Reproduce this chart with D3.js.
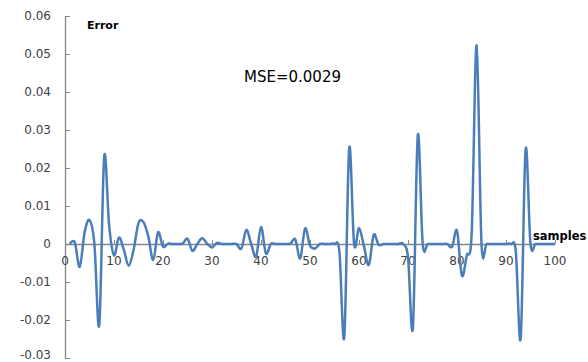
<!DOCTYPE html>
<html>
<head>
<meta charset="utf-8">
<title>Error</title>
<style>
  html, body {margin: 0; padding: 0; background: #fff;}
  svg {display: block;}
  .tick-label {font-family: "DejaVu Sans", sans-serif; font-size: 12px; fill: #404040;}
</style>
<script src="https://cdn.jsdelivr.net/npm/d3@7"></script>
</head>
<body>
<div id="chart"></div>
<script>
// error per sample, samples 1..100
var samples = d3.range(1, 101);
var errorValues = [
  0, 0.0004, -0.006, 0.003, 0.0063, 0, -0.0213, 0.023, 0.005, -0.003,
  0.0017, -0.0015, -0.0057, -0.0015, 0.0055, 0.0058, 0.002, -0.0042, 0.0031, -0.0007,
  0.0001, 0, 0, 0.0001, 0.0014, -0.0018, 0, 0.0015, 0.0001, -0.0009,
  0.0003, 0, 0, 0, 0, -0.0012, 0.0037, 0, -0.0033, 0.0045,
  -0.0025, 0, 0, 0, 0, 0.0001, 0.0012, -0.0038, 0.0041, -0.0004,
  -0.0012, 0, 0, 0, 0, -0.002, -0.0245, 0.0252, 0, 0.0042,
  -0.0005, -0.0055, 0.0024, -0.0002, 0, 0, 0, 0, 0, -0.0035,
  -0.022, 0.0286, 0, 0, 0, 0, 0, 0, -0.0007, 0.0035,
  -0.0083, -0.003, 0.003, 0.0523, 0, 0, 0, 0, 0, 0,
  0, -0.002, -0.0248, 0.0249, 0, 0, 0, 0, 0, 0
];
var xTicks = [0, 10, 20, 30, 40, 50, 60, 70, 80, 90, 100];
var yTicks = [-0.03, -0.02, -0.01, 0, 0.01, 0.02, 0.03, 0.04, 0.05, 0.06];

var width = 588, height = 362;
var margin = {top: 16, right: 33, bottom: 4, left: 65};

var svg = d3.select("#chart").append("svg")
    .attr("width", width)
    .attr("height", height);

var x = d3.scaleLinear().domain([0, 100]).range([margin.left, width - margin.right]);
var y = d3.scaleLinear().domain([-0.03, 0.06]).range([height - margin.bottom, margin.top]);

var axisColor = "#868686";

// y axis, ticks inside
var yAxis = svg.append("g")
    .attr("transform", "translate(" + x(0) + ",0)")
    .call(d3.axisRight(y).tickValues(yTicks).tickSize(5).tickFormat(""));
yAxis.select(".domain").attr("stroke", axisColor).attr("stroke-width", 1.3).attr("d", "M0.5," + y(0.06) + "V" + y(-0.03));
yAxis.selectAll(".tick line").attr("stroke", axisColor);

svg.append("g").selectAll("text")
    .data(yTicks)
  .enter().append("text")
    .attr("class", "tick-label")
    .attr("x", 51)
    .attr("y", function(d) { return Math.min(y(d), 355); })
    .attr("dy", "0.35em")
    .attr("text-anchor", "end")
    .text(function(d) { return d === 0 ? "0" : d3.format(".2f")(d).replace("−", "-"); });

// x axis on zero line, ticks pointing up
var xAxis = svg.append("g")
    .attr("transform", "translate(0," + y(0) + ")")
    .call(d3.axisTop(x).tickValues(xTicks).tickSize(4).tickFormat(""));
xAxis.select(".domain").attr("stroke", axisColor).attr("stroke-width", 1.3).attr("d", "M" + x(0) + ",0.5H" + x(100));
xAxis.selectAll(".tick line").attr("stroke", axisColor);

svg.append("g").selectAll("text")
    .data(xTicks)
  .enter().append("text")
    .attr("class", "tick-label")
    .attr("x", function(d) { return x(d); })
    .attr("y", y(0) + 17)
    .attr("dy", "0.35em")
    .attr("text-anchor", "middle")
    .text(function(d) { return d; });

// the error line, smoothed like the spreadsheet line
var line = d3.line()
    .x(function(d, i) { return x(samples[i]); })
    .y(function(d) { return y(d); })
    .curve(d3.curveCatmullRom.alpha(0));

svg.append("path")
    .datum(errorValues)
    .attr("fill", "none")
    .attr("stroke", "#4a7ebb")
    .attr("stroke-width", 2.5)
    .attr("stroke-linejoin", "round")
    .attr("d", line);

// titles
svg.append("text")
    .attr("x", 87).attr("y", 29)
    .attr("font-family", "DejaVu Sans, sans-serif")
    .attr("font-size", 11).attr("font-weight", "bold")
    .attr("fill", "#000")
    .text("Error");

svg.append("text")
    .attr("x", 533).attr("y", 240)
    .attr("font-family", "DejaVu Sans, sans-serif")
    .attr("font-size", 11.5).attr("font-weight", "bold")
    .attr("fill", "#000")
    .text("samples");

svg.append("text")
    .attr("x", 244).attr("y", 82)
    .attr("font-family", "DejaVu Sans, sans-serif")
    .attr("font-size", 15)
    .attr("fill", "#000")
    .text("MSE=0.0029");
</script>
</body>
</html>
